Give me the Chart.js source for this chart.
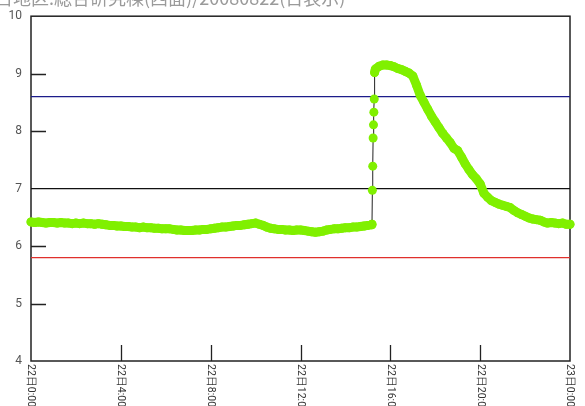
<!DOCTYPE html>
<html>
<head>
<meta charset="utf-8">
<script src="https://cdn.jsdelivr.net/npm/chart.js@4/dist/chart.umd.min.js"></script>
<style>
    html, body { margin: 0; padding: 0; background: #fff; }
    #wrap { width: 585px; height: 406px; }
</style>
</head>
<body>
<div id="wrap"><canvas id="phChart" width="585" height="406"></canvas></div>
<script>
const TITLE = '日地区:総合研究棟(西面)/20080822(日表示)';

// x en minutes depuis 22日0:00
const xTickMinutes = [0, 240, 480, 720, 960, 1200, 1440];
const xTickLabels = ['22日0:00', '22日4:00', '22日8:00', '22日12:00', '22日16:00', '22日20:00', '23日0:00'];

// mesures toutes les 10 minutes, 0:00 -> 15:10
const beforeValues = [
    6.42, 6.41, 6.42, 6.41, 6.40, 6.41,
    6.41, 6.40, 6.41, 6.40, 6.40, 6.39,
    6.40, 6.39, 6.40, 6.39, 6.39, 6.38,
    6.39, 6.38, 6.37, 6.36, 6.36, 6.35,
    6.35, 6.34, 6.34, 6.33, 6.33, 6.32,
    6.33, 6.32, 6.32, 6.31, 6.31, 6.30,
    6.30, 6.30, 6.29, 6.28, 6.28, 6.27,
    6.27, 6.27, 6.28, 6.28, 6.29, 6.29,
    6.30, 6.31, 6.32, 6.33, 6.33, 6.34,
    6.35, 6.36, 6.36, 6.37, 6.38, 6.39,
    6.40, 6.38, 6.36, 6.33, 6.31, 6.30,
    6.29, 6.29, 6.28, 6.28, 6.27, 6.28,
    6.28, 6.27, 6.26, 6.25, 6.24, 6.25,
    6.26, 6.28, 6.29, 6.30, 6.30, 6.31,
    6.32, 6.32, 6.33, 6.33, 6.34, 6.35,
    6.36, 6.37
];

// montée brutale vers 15:12
const spikeMinutes = [911, 912, 913, 914, 915, 916, 917, 918];
const spikeValues = [6.38, 6.97, 7.39, 7.88, 8.11, 8.33, 8.56, 9.02];

// toutes les 10 minutes, 15:20 -> 24:00
const afterValues = [
    9.08, 9.13, 9.15, 9.15,
    9.14, 9.12, 9.09, 9.07, 9.04, 9.01,
    8.96, 8.80, 8.62, 8.50, 8.38, 8.26,
    8.16, 8.06, 7.96, 7.88, 7.80, 7.70,
    7.66, 7.55, 7.43, 7.33, 7.24, 7.17,
    7.08, 6.92, 6.85, 6.79, 6.76, 6.73,
    6.71, 6.69, 6.67, 6.62, 6.58, 6.55,
    6.52, 6.49, 6.47, 6.46, 6.45, 6.42,
    6.40, 6.41, 6.40, 6.39, 6.40, 6.38,
    6.38
];

const upperLimit = 8.6;
const targetLine = 7.0;
const lowerLimit = 5.8;

const series = [];
beforeValues.forEach((v, i) => series.push({ x: i * 10, y: v }));
spikeMinutes.forEach((m, i) => series.push({ x: m, y: spikeValues[i] }));
afterValues.forEach((v, i) => series.push({ x: 920 + i * 10, y: v }));

const GREEN = '#80f000';
const inSpike = ctx => ctx.p0.parsed.x >= spikeMinutes[0] && ctx.p0.parsed.x < spikeMinutes[spikeMinutes.length - 1];

function hLine(value, color) {
    return {
        data: [{ x: 0, y: value }, { x: 1440, y: value }],
        borderColor: color,
        borderWidth: 1.3,
        pointRadius: 0,
        order: 2
    };
}

/**
 * Cadre, graduations intérieures, labels verticaux et titre
 */
const decorPlugin = {
    id: 'decor',
    beforeDatasetsDraw(chart) {
        const { ctx, chartArea: a, scales } = chart;
        ctx.save();
        ctx.strokeStyle = '#222';
        ctx.lineWidth = 1.5;
        ctx.strokeRect(a.left, a.top, a.right - a.left, a.bottom - a.top);
        ctx.lineWidth = 1.3;
        ctx.beginPath();
        [5, 6, 8, 9].forEach(v => {
            const y = Math.round(scales.y.getPixelForValue(v)) + 0.5;
            ctx.moveTo(a.left, y);
            ctx.lineTo(a.left + 15, y);
        });
        xTickMinutes.slice(1, -1).forEach(m => {
            const x = Math.round(scales.x.getPixelForValue(m)) + 0.5;
            ctx.moveTo(x, a.bottom);
            ctx.lineTo(x, a.bottom - 16);
        });
        ctx.stroke();
        ctx.restore();
    },
    afterDraw(chart) {
        const { ctx, chartArea: a, scales } = chart;
        ctx.save();
        ctx.fillStyle = '#333';
        ctx.font = '10.5px Roboto';
        ctx.textAlign = 'left';
        ctx.textBaseline = 'middle';
        xTickMinutes.forEach((m, i) => {
            const x = scales.x.getPixelForValue(m);
            ctx.save();
            ctx.translate(x, a.bottom + 3);
            ctx.rotate(Math.PI / 2);
            ctx.fillText(xTickLabels[i], 0, 0);
            ctx.restore();
        });
        ctx.fillStyle = '#9a9a9a';
        ctx.font = '18px "Noto Sans CJK JP"';
        ctx.textBaseline = 'alphabetic';
        ctx.fillText(TITLE, -5, 5);
        ctx.restore();
    }
};

new Chart(document.getElementById('phChart').getContext('2d'), {
    type: 'line',
    data: {
        datasets: [
            {
                data: series,
                borderColor: GREEN,
                borderWidth: 9,
                borderCapStyle: 'round',
                borderJoinStyle: 'round',
                segment: {
                    borderColor: ctx => inSpike(ctx) ? '#222' : GREEN,
                    borderWidth: ctx => inSpike(ctx) ? 1 : 9
                },
                pointRadius: 4.5,
                pointBackgroundColor: GREEN,
                pointBorderColor: GREEN,
                pointBorderWidth: 0,
                clip: false,
                order: 1
            },
            hLine(upperLimit, '#1c1c8a'),
            hLine(targetLine, '#111'),
            hLine(lowerLimit, '#e0302c')
        ]
    },
    options: {
        responsive: false,
        animation: false,
        layout: { padding: { top: 14, right: 15, left: 0, bottom: 0 } },
        plugins: { legend: { display: false }, tooltip: { enabled: false } },
        scales: {
            x: {
                type: 'linear',
                min: 0,
                max: 1440,
                grid: { display: false },
                border: { display: false },
                ticks: { display: false },
                afterFit: s => { s.height = 45; }
            },
            y: {
                min: 4,
                max: 10,
                grid: { display: false, drawTicks: false },
                border: { display: false },
                ticks: { stepSize: 1, padding: 9, color: '#555', font: { family: 'Roboto', size: 12 } },
                afterFit: s => { s.width = 31; }
            }
        }
    },
    plugins: [decorPlugin]
});
</script>
</body>
</html>
